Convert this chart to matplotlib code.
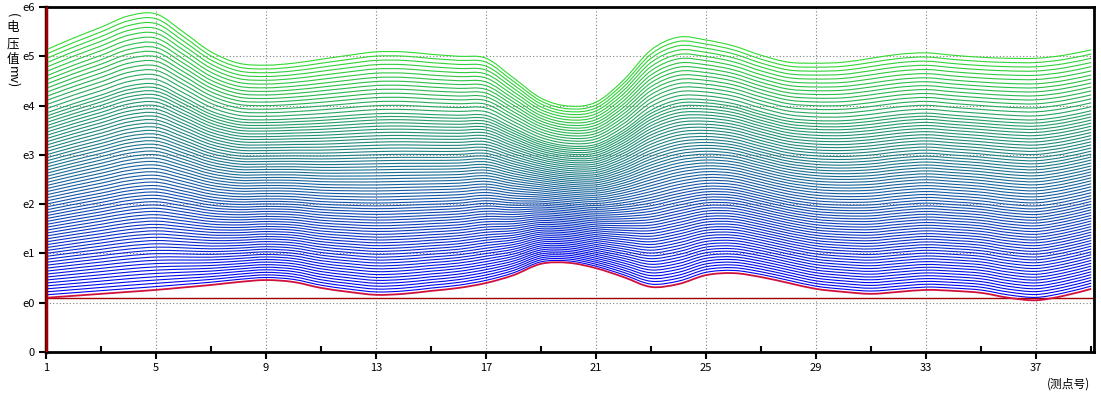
import numpy as np
import matplotlib
matplotlib.use("Agg")
import matplotlib.pyplot as plt
from matplotlib.path import Path
from matplotlib.patches import PathPatch

plt.rcParams['font.family'] = ['Noto Sans CJK SC', 'DejaVu Sans']

# measuring points (测点号)
x = np.arange(1, 40)

# lowest curve (red), in axis units (0, e0=1, e1=2 ...)
bottom = [1.10, 1.14, 1.18, 1.22, 1.26, 1.31, 1.36, 1.42, 1.46, 1.42,
          1.30, 1.22, 1.16, 1.18, 1.24, 1.30, 1.40, 1.56, 1.79, 1.81,
          1.70, 1.52, 1.32, 1.38, 1.56, 1.60, 1.52, 1.40, 1.28, 1.22,
          1.18, 1.22, 1.26, 1.24, 1.20, 1.10, 1.05, 1.14, 1.28]

# highest curve (light green)
top = [6.13, 6.37, 6.59, 6.82, 6.86, 6.49, 6.09, 5.86, 5.82, 5.86,
       5.94, 6.02, 6.09, 6.09, 6.04, 6.00, 5.96, 5.56, 5.15, 4.99,
       5.07, 5.52, 6.13, 6.39, 6.33, 6.21, 6.02, 5.88, 5.86, 5.88,
       5.96, 6.04, 6.07, 6.02, 5.98, 5.96, 5.96, 6.02, 6.13]

# where the curves sit at point 1 (curve index -> level), read from the left edge
curve_idx = [0, 15, 32, 48, 61, 70, 76]
level_left = [1.10, 2.0, 3.0, 4.0, 4.85, 5.6, 6.13]

baseline = 1.1
ytick_labels = ['0', 'e0', 'e1', 'e2', 'e3', 'e4', 'e5', 'e6']
xticks = [1, 5, 9, 13, 17, 21, 25, 29, 33, 37]

bottom = np.array(bottom)
top = np.array(top)
n = curve_idx[-1] + 1


def smooth_path(xs, ys):
    # cubic bezier through the points (catmull-rom style handles)
    px = np.concatenate([[xs[0]], xs, [xs[-1]]])
    py = np.concatenate([[ys[0]], ys, [ys[-1]]])
    verts = [(xs[0], ys[0])]
    codes = [Path.MOVETO]
    for i in range(1, len(xs)):
        a, b = i, i + 1
        c1 = (px[a] + (px[a + 1] - px[a - 1]) / 6, py[a] + (py[a + 1] - py[a - 1]) / 6)
        c2 = (px[b] - (px[b + 1] - px[b - 1]) / 6, py[b] - (py[b + 1] - py[b - 1]) / 6)
        verts += [c1, c2, (px[b], py[b])]
        codes += [Path.CURVE4] * 3
    return Path(verts, codes)


fig = plt.figure(figsize=(11.01, 3.94), dpi=100)
ax = fig.add_axes([0.0418, 0.1066, 0.9518, 0.8756])

blue = np.array([0.0, 0.0, 0.95])
green = np.array([0.2, 0.85, 0.2])
for i in range(1, n):
    lvl = np.interp(i, curve_idx, level_left)
    g = (lvl - level_left[0]) / (level_left[-1] - level_left[0])
    y = bottom + (top - bottom) * g
    col = blue + (green - blue) * g
    ax.add_patch(PathPatch(smooth_path(x, y), fill=False, edgecolor=col, lw=0.8, zorder=3))

ax.add_patch(PathPatch(smooth_path(x, bottom), fill=False, edgecolor='#d0103c', lw=1.3, zorder=4))
ax.axhline(baseline, color='#a00000', lw=1.0, zorder=2)
ax.axvline(1, color='#a00000', lw=2.0, zorder=5)

ax.set_xlim(1, 39.1)
ax.set_ylim(0, 7)
ax.set_xticks(xticks)
ax.set_xticks([3, 7, 11, 15, 19, 23, 27, 31, 35, 39], minor=True)
ax.set_yticks(range(8))
ax.set_yticklabels(ytick_labels)
ax.tick_params(axis='both', which='major', direction='out', length=5, width=1.5,
               labelsize=8, pad=3)
ax.tick_params(axis='x', which='minor', direction='in', length=4, width=1.5)

ax.grid(True, which='major', color='#808080', linestyle=(0, (1, 2)), lw=0.8, zorder=1)
for s in ax.spines.values():
    s.set_linewidth(2)
    s.set_color('black')
ax.spines['left'].set_color('#5a0000')
ax.spines['left'].set_linewidth(2.5)

# vertical y label: CJK upright, latin turned
fig.text(13 / 1101, 1 - 15 / 394, '(', rotation=-90, fontsize=9, ha='center', va='center')
for ch, py in zip('电压值', [28, 44, 60]):
    fig.text(13 / 1101, 1 - py / 394, ch, fontsize=9, ha='center', va='center')
fig.text(13 / 1101, 1 - 77 / 394, 'mv)', rotation=-90, fontsize=9, ha='center', va='center')

fig.text(1068 / 1101, 1 - 384 / 394, '(测点号)', fontsize=8.5, ha='center', va='center')

fig.savefig('out.png', dpi=100)
